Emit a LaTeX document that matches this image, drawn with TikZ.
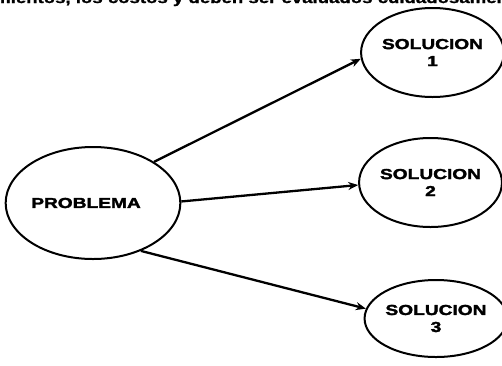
\documentclass[tikz,border=0pt]{standalone}
\usepackage{fontspec}
\usetikzlibrary{shapes.geometric,arrows.meta}
\newfontfamily\lblfont[FakeStretch=1.32,FakeBold=2.2]{Liberation Sans}
\newfontfamily\runfont[FakeStretch=1.24,FakeBold=1.5]{Liberation Sans}
\tikzset{
  bubble/.style={draw, ellipse, line width=2pt, inner sep=0pt,
    align=center, font=\lblfont\bfseries\fontsize{14.5}{17}\selectfont},
  flow/.style={line width=2.3pt, -{Stealth[length=10pt,width=8pt]}}
}
\begin{document}
\begin{tikzpicture}[x=1pt, y=-1pt]
  \useasboundingbox (0,0) rectangle (502,365);
  \fill[white] (0,0) rectangle (502,365);
  % last line of the running text above the figure, trimmed by the page edge
  \begin{scope}
    \clip (0,0) rectangle (502,365);
    \node[anchor=base west, inner sep=0pt, font=\runfont\bfseries\fontsize{15}{17}\selectfont]
      (run) at (-6,3) {mientos, los costos y deben ser evaluados cuidadosamente.};
  \end{scope}

  \node[bubble, minimum width=163pt, minimum height=112pt] (P) at (93,203) {PROBLEMA\hspace{14pt}};
  \node[bubble, minimum width=135pt, minimum height=89pt] (S1) at (432.5,52.5) {SOLUCION\\1};
  \node[bubble, minimum width=137pt, minimum height=89pt] (S2) at (430.5,182.5) {SOLUCION\\2};
  \node[bubble, minimum width=130pt, minimum height=77pt] (S3) at (436,318.5) {SOLUCION\\3};

  \draw[flow] (P.34) -- (S1.185);
  \draw[flow] (P.1.5) -- (S2.182);
  \draw[flow] (P.-45) -- (S3.172);
\end{tikzpicture}
\end{document}
